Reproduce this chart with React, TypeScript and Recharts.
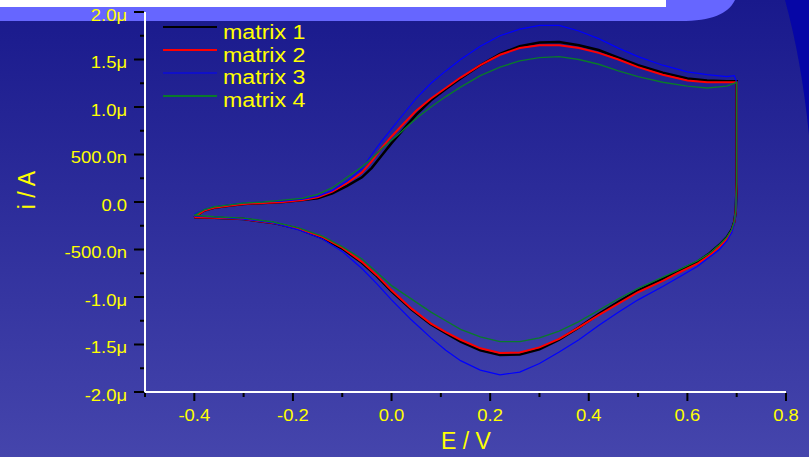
import React from "react";
import { LineChart, Line, XAxis, YAxis, Legend } from "recharts";

// cyclic voltammograms, E in V, i in µA
const matrix1: [number, number][] = [
  [-0.4, -0.16], [-0.38, -0.09], [-0.36, -0.06], [-0.33, -0.04], [-0.3, -0.02], [-0.26, -0.01],
  [-0.22, 0.0], [-0.18, 0.02], [-0.15, 0.04], [-0.12, 0.09], [-0.09, 0.17], [-0.06, 0.26],
  [-0.04, 0.36], [-0.02, 0.49], [0.0, 0.62], [0.02, 0.74], [0.05, 0.92], [0.08, 1.07],
  [0.11, 1.19], [0.14, 1.3], [0.18, 1.44], [0.22, 1.56], [0.26, 1.64], [0.3, 1.68],
  [0.34, 1.685], [0.38, 1.65], [0.42, 1.6], [0.46, 1.52], [0.5, 1.44], [0.55, 1.36],
  [0.6, 1.3], [0.64, 1.28], [0.68, 1.27], [0.7, 1.27],
  [0.7, 0.8], [0.7, 0.2], [0.698, -0.1], [0.695, -0.21], [0.69, -0.29], [0.68, -0.37],
  [0.665, -0.45], [0.645, -0.54], [0.62, -0.63], [0.58, -0.73], [0.55, -0.81], [0.5, -0.93],
  [0.46, -1.05], [0.42, -1.18], [0.38, -1.32], [0.34, -1.45], [0.3, -1.55], [0.26, -1.605],
  [0.22, -1.61], [0.18, -1.56], [0.14, -1.47], [0.11, -1.38], [0.08, -1.29], [0.04, -1.13],
  [0.0, -0.94], [-0.03, -0.78], [-0.06, -0.64], [-0.1, -0.49], [-0.14, -0.38], [-0.19, -0.28],
  [-0.24, -0.22], [-0.3, -0.18], [-0.36, -0.165], [-0.4, -0.16],
];

const matrix2: [number, number][] = [
  [-0.4, -0.16], [-0.38, -0.09], [-0.36, -0.06], [-0.33, -0.04], [-0.3, -0.02], [-0.26, -0.01],
  [-0.22, 0.0], [-0.18, 0.02], [-0.15, 0.05], [-0.12, 0.11], [-0.09, 0.2], [-0.06, 0.31],
  [-0.04, 0.43], [-0.02, 0.57], [0.0, 0.69], [0.02, 0.8], [0.05, 0.96], [0.08, 1.09],
  [0.11, 1.2], [0.14, 1.31], [0.18, 1.44], [0.22, 1.55], [0.26, 1.62], [0.3, 1.65],
  [0.34, 1.65], [0.38, 1.62], [0.42, 1.57], [0.46, 1.5], [0.5, 1.42], [0.55, 1.34],
  [0.6, 1.28], [0.64, 1.26], [0.68, 1.26], [0.7, 1.26],
  [0.7, 0.8], [0.7, 0.2], [0.698, -0.1], [0.695, -0.22], [0.69, -0.3], [0.68, -0.39],
  [0.665, -0.47], [0.645, -0.56], [0.62, -0.65], [0.58, -0.75], [0.55, -0.83], [0.5, -0.95],
  [0.46, -1.07], [0.42, -1.19], [0.38, -1.32], [0.34, -1.44], [0.3, -1.53], [0.26, -1.585],
  [0.22, -1.59], [0.18, -1.54], [0.14, -1.45], [0.11, -1.37], [0.08, -1.28], [0.04, -1.12],
  [0.0, -0.93], [-0.03, -0.77], [-0.06, -0.63], [-0.1, -0.48], [-0.14, -0.37], [-0.19, -0.28],
  [-0.24, -0.22], [-0.3, -0.18], [-0.36, -0.165], [-0.4, -0.16],
];

const matrix3: [number, number][] = [
  [-0.4, -0.13], [-0.38, -0.08], [-0.36, -0.05], [-0.33, -0.03], [-0.3, -0.01], [-0.26, 0.0],
  [-0.22, 0.01], [-0.18, 0.03], [-0.15, 0.06], [-0.12, 0.12], [-0.09, 0.22], [-0.06, 0.35],
  [-0.04, 0.5], [-0.02, 0.64], [0.0, 0.77], [0.02, 0.9], [0.05, 1.09], [0.08, 1.25],
  [0.11, 1.38], [0.14, 1.5], [0.18, 1.64], [0.22, 1.75], [0.26, 1.82], [0.3, 1.86],
  [0.34, 1.86], [0.38, 1.8], [0.42, 1.72], [0.46, 1.62], [0.5, 1.53], [0.55, 1.44],
  [0.6, 1.37], [0.64, 1.34], [0.68, 1.32], [0.695, 1.33], [0.7, 1.26],
  [0.7, 0.8], [0.7, 0.2], [0.698, -0.1], [0.695, -0.23], [0.69, -0.32], [0.68, -0.41],
  [0.665, -0.5], [0.645, -0.58], [0.62, -0.68], [0.58, -0.8], [0.55, -0.89], [0.5, -1.03],
  [0.46, -1.16], [0.42, -1.3], [0.38, -1.45], [0.34, -1.58], [0.3, -1.7], [0.26, -1.79],
  [0.22, -1.82], [0.18, -1.77], [0.14, -1.67], [0.11, -1.56], [0.08, -1.43], [0.04, -1.24],
  [0.0, -1.03], [-0.03, -0.86], [-0.06, -0.7], [-0.1, -0.52], [-0.14, -0.39], [-0.19, -0.29],
  [-0.24, -0.22], [-0.3, -0.18], [-0.36, -0.16], [-0.4, -0.15],
];

const matrix4: [number, number][] = [
  [-0.4, -0.14], [-0.38, -0.08], [-0.36, -0.05], [-0.33, -0.03], [-0.3, -0.01], [-0.26, 0.0],
  [-0.22, 0.02], [-0.18, 0.04], [-0.15, 0.08], [-0.12, 0.15], [-0.09, 0.26], [-0.06, 0.37],
  [-0.04, 0.46], [-0.02, 0.56], [0.0, 0.65], [0.02, 0.74], [0.05, 0.88], [0.08, 1.0],
  [0.11, 1.11], [0.14, 1.21], [0.18, 1.33], [0.22, 1.42], [0.26, 1.485], [0.3, 1.52],
  [0.34, 1.53], [0.38, 1.5], [0.42, 1.45], [0.46, 1.38], [0.5, 1.32], [0.55, 1.26],
  [0.6, 1.22], [0.64, 1.2], [0.68, 1.22], [0.7, 1.26],
  [0.7, 0.8], [0.7, 0.2], [0.698, -0.1], [0.695, -0.21], [0.69, -0.29], [0.68, -0.37],
  [0.665, -0.45], [0.645, -0.54], [0.62, -0.62], [0.58, -0.72], [0.55, -0.79], [0.5, -0.91],
  [0.46, -1.02], [0.42, -1.14], [0.38, -1.26], [0.34, -1.36], [0.3, -1.43], [0.26, -1.47],
  [0.22, -1.47], [0.18, -1.42], [0.14, -1.34], [0.11, -1.25], [0.08, -1.16], [0.04, -1.02],
  [0.0, -0.88], [-0.03, -0.74], [-0.06, -0.6], [-0.1, -0.47], [-0.14, -0.36], [-0.19, -0.27],
  [-0.24, -0.21], [-0.3, -0.17], [-0.36, -0.155], [-0.4, -0.14],
];

const xTicks = [-0.5, -0.4, -0.3, -0.2, -0.1, 0, 0.1, 0.2, 0.3, 0.4, 0.5, 0.6, 0.7, 0.8];
const xTickLabels = ["", "-0.4", "", "-0.2", "", "0.0", "", "0.2", "", "0.4", "", "0.6", "", "0.8"];
const yTicks = [-2, -1.75, -1.5, -1.25, -1, -0.75, -0.5, -0.25, 0, 0.25, 0.5, 0.75, 1, 1.25, 1.5, 1.75, 2];
const yTickLabels = [
  "-2.0μ", "", "-1.5μ", "", "-1.0μ", "", "-500.0n", "", "0.0", "", "500.0n", "", "1.0μ", "", "1.5μ", "", "2.0μ",
];

const seriesNames = ["matrix 1", "matrix 2", "matrix 3", "matrix 4"];
const seriesColors = ["#000000", "#ff0000", "#0000ff", "#0a7a2a"];
const seriesWidths = [2.5, 2, 1.2, 1.4];
const seriesData = [matrix1, matrix2, matrix3, matrix4].map((s) => s.map(([E, i]) => ({ E, i })));

const FONT = "'Liberation Sans', Arial, sans-serif";
const YELLOW = "#ffff00";

function XTick(props: any) {
  const { x, y, payload } = props;
  const idx = xTicks.indexOf(payload.value);
  const label = xTickLabels[idx] ?? "";
  const major = label !== "";
  return (
    <g>
      <line x1={x} y1={y + 1} x2={x} y2={y + (major ? 9 : 5)} stroke="#000" strokeWidth={2} />
      {major && (
        <text
          transform={`translate(${x},${y + 29}) scale(1.15,1)`}
          textAnchor="middle"
          fill={YELLOW}
          fontSize={16}
          fontFamily={FONT}
        >
          {label}
        </text>
      )}
    </g>
  );
}

function YTick(props: any) {
  const { x, y, payload } = props;
  const idx = yTicks.indexOf(payload.value);
  const label = yTickLabels[idx] ?? "";
  const major = label !== "";
  return (
    <g>
      <line x1={x - (major ? 11 : 5)} y1={y} x2={x - 1} y2={y} stroke="#000" strokeWidth={2} />
      {major && (
        <text
          transform={`translate(${x - 18},${y + 8.5}) scale(1.15,1)`}
          textAnchor="end"
          fill={YELLOW}
          fontSize={16}
          fontFamily={FONT}
        >
          {label}
        </text>
      )}
    </g>
  );
}

function LegendBox() {
  return (
    <svg width={180} height={100}>
      {seriesNames.map((name, k) => (
        <g key={name}>
          <line x1={3} x2={57} y1={11 + k * 23} y2={11 + k * 23} stroke={seriesColors[k]} strokeWidth={k === 2 ? 1.2 : 2} />
          <text
            transform={`translate(63,${23 + k * 22.5}) scale(1.16,1)`}
            fill={YELLOW}
            fontSize={20}
            fontFamily={FONT}
          >
            {name}
          </text>
        </g>
      ))}
    </svg>
  );
}

export default function App() {
  return (
    <div style={{ position: "absolute", left: 0, top: 0, width: 809, height: 457, overflow: "hidden" }}>
      <svg width={809} height={457} style={{ position: "absolute", left: 0, top: 0 }}>
        <defs>
          <linearGradient id="bg" x1="0" y1="0" x2="0" y2="1">
            <stop offset="0" stopColor="#19198c" />
            <stop offset="1" stopColor="#4545ac" />
          </linearGradient>
        </defs>
        <rect x={0} y={0} width={809} height={457} fill="url(#bg)" />
        <path d="M0,0 H735 C728,14 712,21 680,21 H0 Z" fill="#6666ff" />
        <path d="M785,0 C796,40 804,85 809,135 V0 Z" fill="#0606a6" />
        <rect x={0} y={0} width={666} height={7} fill="#ffffff" />
        <text x={466} y={449} textAnchor="middle" fill={YELLOW} fontSize={23} fontFamily={FONT}>
          E / V
        </text>
        <text
          transform="translate(35,190) rotate(-90)"
          textAnchor="middle"
          fill={YELLOW}
          fontSize={23}
          fontFamily={FONT}
        >
          i / A
        </text>
      </svg>
      <div style={{ position: "absolute", left: 0, top: 0 }}>
        <LineChart width={809} height={457} margin={{ top: 12, right: 23, bottom: 0, left: 65 }}>
          <XAxis
            dataKey="E"
            type="number"
            domain={[-0.5, 0.8]}
            ticks={xTicks}
            interval={0}
            height={65}
            tickSize={0}
            tickMargin={0}
            tickLine={false}
            axisLine={{ stroke: "#ffffff", strokeWidth: 2 }}
            tick={<XTick />}
            allowDataOverflow
          />
          <YAxis
            type="number"
            domain={[-2, 2]}
            ticks={yTicks}
            interval={0}
            width={80}
            tickSize={0}
            tickMargin={0}
            tickLine={false}
            axisLine={{ stroke: "#ffffff", strokeWidth: 2 }}
            tick={<YTick />}
            allowDataOverflow
          />
          <Legend
            layout="vertical"
            align="center"
            verticalAlign="middle"
            wrapperStyle={{ left: 160, top: 16, width: 180, height: 100 }}
            content={() => <LegendBox />}
          />
          {seriesData.map((d, k) => (
            <Line
              key={seriesNames[k]}
              name={seriesNames[k]}
              data={d}
              dataKey="i"
              type="linear"
              stroke={seriesColors[k]}
              strokeWidth={seriesWidths[k]}
              dot={false}
              activeDot={false}
              isAnimationActive={false}
            />
          ))}
        </LineChart>
      </div>
    </div>
  );
}
